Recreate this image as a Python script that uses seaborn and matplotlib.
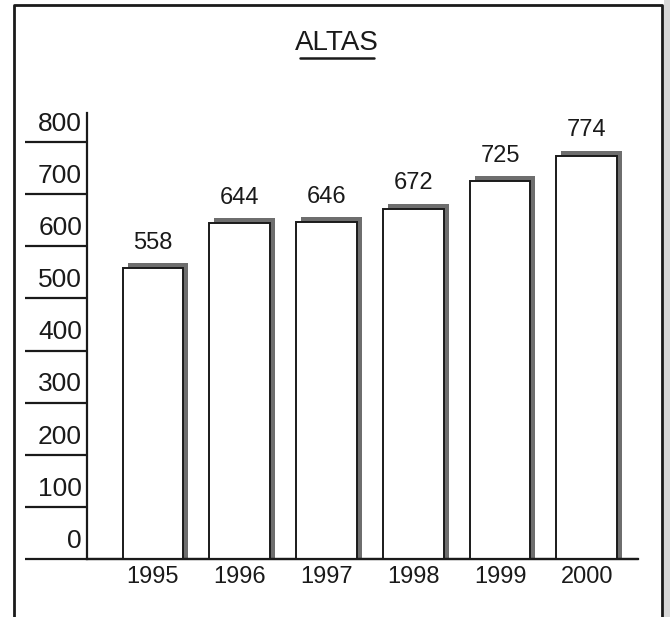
import matplotlib
matplotlib.use("Agg")
import matplotlib.pyplot as plt
import matplotlib.patches as mpatches
from matplotlib.lines import Line2D
import pandas as pd
import seaborn as sns

# Data
years = ["1995", "1996", "1997", "1998", "1999", "2000"]
altas = [558, 644, 646, 672, 725, 774]
y_ticks = [0, 100, 200, 300, 400, 500, 600, 700, 800]
title = "ALTAS"

sns.set_theme(style="white")
plt.rcParams["font.family"] = ["Liberation Sans", "DejaVu Sans"]

W, H = 670, 617
fig = plt.figure(figsize=(W / 100, H / 100), dpi=100)
ax = fig.add_axes([87 / W, 1 - 559 / H, (638 - 87) / W, (559 - 113) / H])

df = pd.DataFrame({"year": years, "altas": altas})
sns.barplot(data=df, x="year", y="altas", color="white", edgecolor="#1a1a1a",
            linewidth=1.4, width=0.70, saturation=1, ax=ax, zorder=3)

ax.set_xlim(-0.76, 5.59)
ax.set_ylim(0, 856)

# gray drop shadow up/right of each bar
dx = 5 / 86.8
dy = 5 / 0.521
for p in ax.patches[:len(years)]:
    shadow = mpatches.Rectangle((p.get_x() + dx, 0), p.get_width(), p.get_height() + dy,
                                facecolor="#6e6e6e", edgecolor="none", zorder=2)
    ax.add_patch(shadow)

# value labels
for i, v in enumerate(altas):
    ax.annotate(str(v), (i, v + dy), xytext=(0, 7), textcoords="offset points",
                ha="center", va="bottom", fontsize=17, color="#1a1a1a")

# axis styling
for s in ["top", "right"]:
    ax.spines[s].set_visible(False)
ax.spines["left"].set_color("#1a1a1a")
ax.spines["left"].set_linewidth(1.6)
ax.spines["bottom"].set_color("#1a1a1a")
ax.spines["bottom"].set_linewidth(1.6)

ax.set_yticks(y_ticks)
ax.set_yticklabels([])
ax.tick_params(axis="y", which="major", left=True, length=44.5, width=1.6,
               color="#1a1a1a", direction="out")
for t in y_ticks:
    ax.text(-0.009, t + 12, str(t), transform=ax.get_yaxis_transform(),
            ha="right", va="bottom", fontsize=19, color="#1a1a1a")

ax.tick_params(axis="x", length=0, pad=5, labelsize=17, labelcolor="#1a1a1a")
ax.set_xlabel("")
ax.set_ylabel("")

# baseline extends to the left like the 0 tick
ax.axhline(0, color="#1a1a1a", lw=1.6, zorder=4, clip_on=False)

# title with underline
fig.text(337 / W, 1 - 43 / H, title, ha="center", va="center", fontsize=20, color="#1a1a1a")
fig.add_artist(Line2D([300 / W, 374 / W], [1 - 58 / H, 1 - 58 / H],
                      color="#1a1a1a", lw=1.8))

# outer frame
fig.add_artist(Line2D([14 / W, 14 / W, 662 / W, 662 / W],
                      [0, 1 - 5 / H, 1 - 5 / H, 0], color="#1a1a1a", lw=2))
fig.add_artist(mpatches.Rectangle((664 / W, 0), 6 / W, 1, transform=fig.transFigure,
                                  facecolor="#d8d8d8", edgecolor="none"))

fig.savefig("out.png", dpi=100)
